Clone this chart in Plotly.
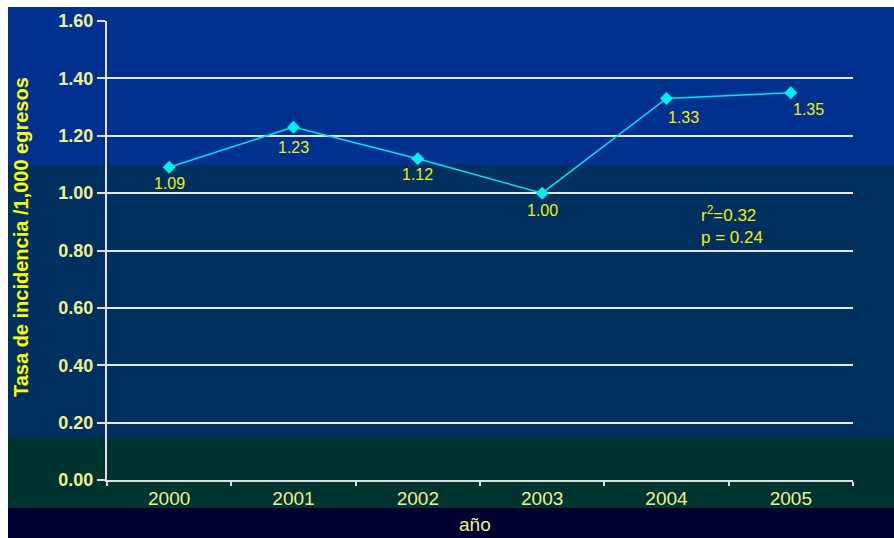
import plotly.graph_objects as go

years = ["2000", "2001", "2002", "2003", "2004", "2005"]
rates = [1.09, 1.23, 1.12, 1.00, 1.33, 1.35]
label_dx = [0, 0, 0, 0, 17, 18]
label_dy = [-16, -20, -16, -17, -19, -17]
y_ticks = [0.0, 0.2, 0.4, 0.6, 0.8, 1.0, 1.2, 1.4, 1.6]

W, H = 894, 538
L, R, T, B = 107, 853, 21, 480

def px(x):
    return (x - L) / (R - L)

def py(y):
    return (B - y) / (B - T)

fig = go.Figure()
fig.add_trace(go.Scatter(
    x=years, y=rates, mode="lines+markers",
    line=dict(color="#00e5ee", width=1.5),
    marker=dict(symbol="diamond", size=10, color="#00f0f0"),
    showlegend=False,
))

bands = [(7, 165, "#003090"), (165, 438, "#003060"), (438, 508, "#003430"), (508, H, "#000030")]
shapes = []
for y0, y1, c in bands:
    shapes.append(dict(type="rect", xref="paper", yref="paper", x0=px(8), x1=px(W + 5),
                       y0=py(y1), y1=py(y0), fillcolor=c, line=dict(width=0), layer="below"))

annotations = [
    dict(text=f"{v:.2f}", x=i, y=v, xref="x", yref="y", xshift=dx, yshift=dy,
         xanchor="center", yanchor="middle", showarrow=False,
         font=dict(family="Liberation Sans, Arial", size=16, color="#f0f000"))
    for i, (v, dx, dy) in enumerate(zip(rates, label_dx, label_dy))
]
annotations += [
    dict(text="<b>Tasa de incidencia /1,000 egresos</b>", textangle=-90,
         xref="paper", yref="paper", x=px(21), y=py(237), xanchor="center", yanchor="middle",
         showarrow=False,
         font=dict(family="Liberation Sans Narrow, Liberation Sans, Arial", size=20, color="#ffff00")),
    dict(text="año", xref="paper", yref="paper", x=px(475), y=py(524), xanchor="center",
         yanchor="middle", showarrow=False,
         font=dict(family="Liberation Sans, Arial", size=19, color="#f0f090")),
    dict(text="r<sup>2</sup>=0.32<br>p = 0.24", xref="paper", yref="paper",
         x=px(699), y=py(225), xanchor="left", yanchor="middle", align="left", showarrow=False,
         font=dict(family="Liberation Sans, Arial", size=17, color="#f0f000")),
]

fig.update_layout(
    width=W, height=H,
    margin=dict(l=L, r=W - R, t=T, b=H - B),
    paper_bgcolor="white", plot_bgcolor="rgba(0,0,0,0)",
    shapes=shapes,
    xaxis=dict(type="category", tickson="boundaries", ticks="outside", ticklen=4,
               tickcolor="#e0e0e0", tickwidth=2, showgrid=False,
               showline=True, linecolor="#e0e0e0", linewidth=2,
               tickfont=dict(family="Liberation Sans, Arial", size=19, color="#f0f090"),
               range=[-0.5, 5.5]),
    yaxis=dict(range=[0, 1.6], tickvals=y_ticks, tickformat=".2f",
               ticks="outside", ticklen=8, tickcolor="#e0e0e0", tickwidth=2,
               showgrid=True, gridcolor="#e8e8e8", gridwidth=2,
               showline=True, linecolor="#e0e0e0", linewidth=2, zeroline=False,
               tickfont=dict(family="Liberation Sans, Arial", size=18, color="#f0f090", weight="bold")),
    annotations=annotations,
)

fig.write_html("out.html", config={"displayModeBar": False},
               post_script="document.body.style.margin='0';document.body.style.overflow='hidden';")
